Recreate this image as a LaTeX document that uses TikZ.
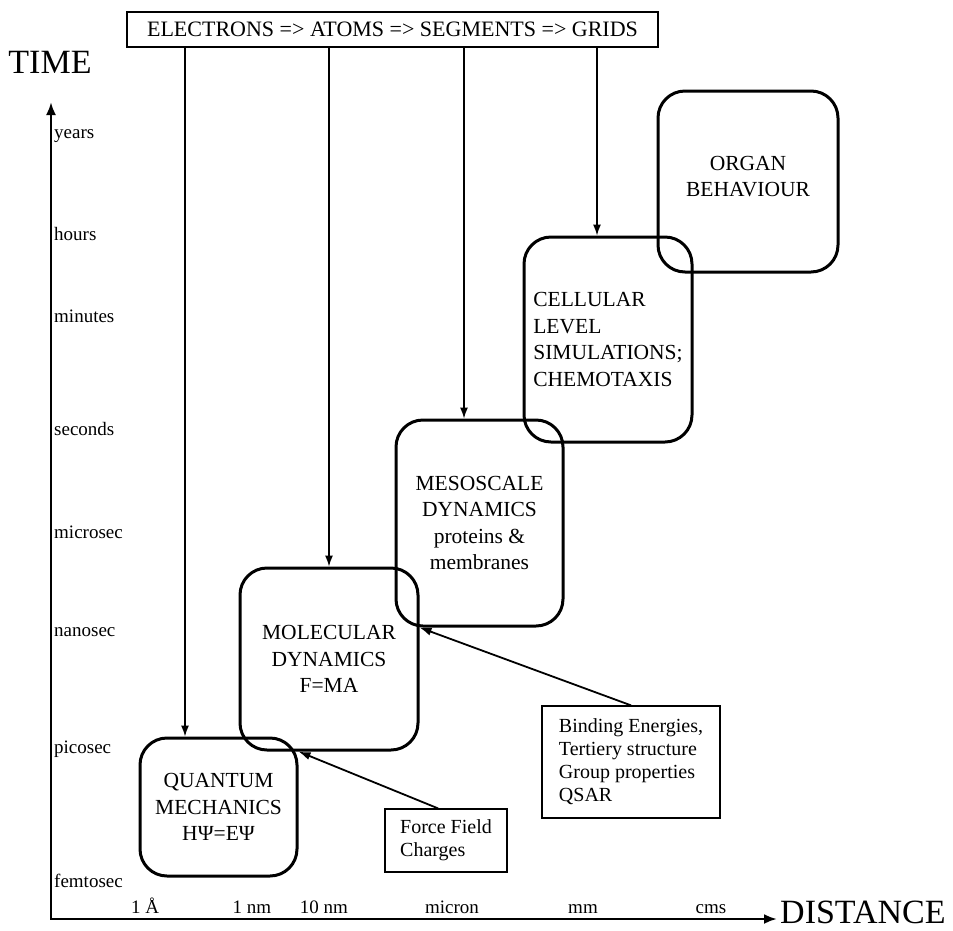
\documentclass[tikz,border=0pt]{standalone}
\usepackage{fontspec}
\setmainfont{Liberation Serif}
\usetikzlibrary{arrows.meta}

\begin{document}
\begin{tikzpicture}[x=1pt, y=-1pt,
    scalebox/.style={draw, rounded corners=27pt, line width=3pt, align=center,
      inner sep=0pt, font=\fontsize{21.5}{26.5}\selectfont},
    note/.style={draw, line width=1.3pt, align=left, inner sep=0pt,
      font=\fontsize{20}{23}\selectfont},
    tick/.style={inner sep=0pt, font=\fontsize{19}{22}\selectfont},
    axis/.style={line width=2.5pt, arrows={Latex[length=13pt,width=10pt]-Latex[length=13pt,width=10pt]}},
    feed/.style={line width=1.3pt, -{Latex[length=11pt,width=8pt]}},
    hint/.style={line width=1.8pt, -{Latex[length=12pt,width=8pt]}}]
    \useasboundingbox (0,0) rectangle (953,930);

    % axes
    \coordinate (origin) at (51,919);
    \coordinate (ytip) at (51,102);
    \coordinate (xtip) at (777,919);
    \draw[axis] (ytip) -- (origin) -- (xtip);
    \node[anchor=base, inner sep=0pt, font=\fontsize{34}{40}\selectfont] (time) at (50,73) {TIME};
    \node[anchor=base west, inner sep=0pt, font=\fontsize{34}{40}\selectfont] (distance) at (780,923) {DISTANCE};

    \foreach \lbl/\ypos in {years/138, hours/240, minutes/322, seconds/435,
                            microsec/538, nanosec/636, picosec/753, femtosec/887}
      \node[tick, anchor=base west] (\lbl) at (54,\ypos) {\lbl};
    \foreach \lbl/\xpos in {1 Å/145, 1 nm/252, 10 nm/324, micron/452, mm/583, cms/711}
      \node[tick, anchor=base] (len-\xpos) at (\xpos,913) {\lbl};

    % levels of description
    \node[draw, line width=1.3pt, minimum width=531pt, minimum height=35pt, inner sep=0pt,
      font=\fontsize{22}{26}\selectfont] (scales) at (392.5,29.5)
      {ELECTRONS => ATOMS => SEGMENTS => GRIDS};

    \node[scalebox, minimum width=157pt, minimum height=138pt] (qm) at (218.5,807)
      {QUANTUM\\MECHANICS\\HΨ=EΨ};
    \node[scalebox, minimum width=178pt, minimum height=182pt] (md) at (329,659)
      {MOLECULAR\\DYNAMICS\\F=MA};
    \node[scalebox, minimum width=167pt, minimum height=206pt] (meso) at (479.5,523)
      {MESOSCALE\\DYNAMICS\\proteins \&\\membranes};
    \node[scalebox, align=left, minimum width=168pt, minimum height=205pt] (cell) at (608,339.5)
      {CELLULAR\\LEVEL\\SIMULATIONS;\\CHEMOTAXIS};
    \node[scalebox, minimum width=180pt, minimum height=181pt] (organ) at (748,181.5)
      {ORGAN\\BEHAVIOUR\\[-16.5pt]};

    \foreach \xpos/\target in {185/qm, 329/md, 464/meso, 597/cell}
      \draw[feed] (\xpos,0 |- scales.south) -- (\xpos,0 |- \target.north);

    % inputs
    \node[note, minimum width=122pt, minimum height=63pt] (ff) at (446,840.5)
      {Force Field\\Charges};
    \node[note, minimum width=178pt, minimum height=112pt] (bind) at (631,762)
      {Binding Energies,\\Tertiery structure\\Group properties\\QSAR};

    \draw[hint] ([xshift=-8pt]ff.north) -- (qm.east |- md.south);
    \draw[hint] (bind.north) -- (md.east |- meso.south);
\end{tikzpicture}
\end{document}
